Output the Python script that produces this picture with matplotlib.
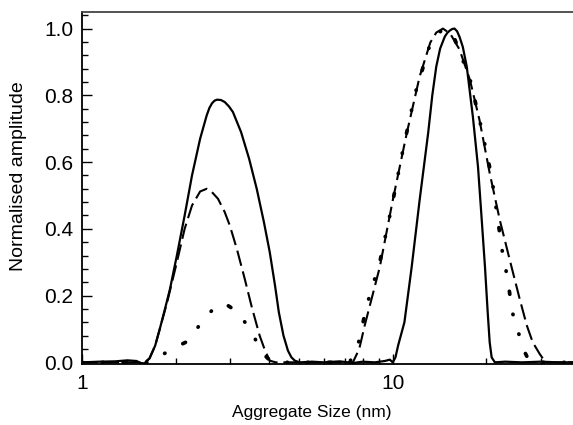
import matplotlib
matplotlib.use("Agg")
import matplotlib.pyplot as plt
from matplotlib.ticker import FixedLocator, MultipleLocator, NullFormatter

plt.rcParams['font.family'] = ['Liberation Sans', 'DejaVu Sans']

# solid curve
solid_x = [1.0, 1.14, 1.28, 1.40, 1.50, 1.54, 1.59, 1.65, 1.72, 1.78, 1.85, 1.92, 2.02,
           2.14, 2.26, 2.40, 2.52, 2.57, 2.62, 2.67, 2.72, 2.80, 2.88, 2.97, 3.06, 3.25,
           3.45, 3.65, 3.85, 4.02, 4.18, 4.30, 4.45, 4.60, 4.72, 4.84, 5.02, 5.5, 6.0,
           6.75, 7.44, 8.0, 8.75, 9.42, 9.78, 10.0, 10.2, 10.4, 10.9, 11.5, 12.2, 13.0,
           13.4, 13.8, 14.2, 14.7, 15.0, 15.3, 15.55, 15.8, 16.1, 16.4, 16.8, 17.3, 18.1,
           18.8, 19.3, 19.8, 20.2, 20.5, 20.8, 21.3, 23.0, 26.0, 30.0, 34.0, 38.0]
solid_y = [0.0, 0.002, 0.003, 0.006, 0.004, -0.002, -0.003, 0.012, 0.05, 0.10, 0.16,
           0.22, 0.32, 0.44, 0.56, 0.67, 0.74, 0.762, 0.776, 0.784, 0.787, 0.786, 0.78,
           0.767, 0.75, 0.69, 0.61, 0.52, 0.42, 0.33, 0.23, 0.15, 0.08, 0.035, 0.015,
           0.005, 0.0, 0.002, 0.0, 0.003, -0.002, 0.002, 0.0, 0.004, 0.008, 0.0, 0.015,
           0.05, 0.12, 0.285, 0.486, 0.688, 0.80, 0.886, 0.94, 0.976, 0.988, 0.995, 0.999,
           1.0, 0.992, 0.975, 0.945, 0.886, 0.736, 0.586, 0.435, 0.285, 0.15, 0.06,
           0.015, 0.0, 0.002, 0.0, 0.002, 0.0, 0.0]

# dashed curve
dash_x = [1.0, 1.3, 1.54, 1.59, 1.65, 1.72, 1.78, 1.88, 2.02, 2.14, 2.26, 2.40, 2.52,
          2.62, 2.74, 2.88, 2.99, 3.15, 3.34, 3.52, 3.73, 3.88, 4.02, 4.2, 5.0, 6.0, 7.0,
          7.44, 7.8, 8.12, 9.08, 10.0, 11.1, 12.2, 13.2, 13.8, 14.5, 15.3, 16.4, 17.7,
          19.0, 20.5, 22.1, 23.8, 25.6, 27.0, 28.2, 29.7, 31.0, 34.0, 38.0]
dash_y = [0.0, 0.0, 0.0, 0.0, 0.012, 0.05, 0.10, 0.18, 0.30, 0.40, 0.47, 0.512, 0.52,
          0.51, 0.49, 0.45, 0.41, 0.34, 0.25, 0.165, 0.08, 0.036, 0.005, 0.0, 0.0, 0.0,
          0.0, 0.0, 0.04, 0.11, 0.285, 0.486, 0.688, 0.856, 0.958, 0.988, 1.0, 0.985,
          0.937, 0.847, 0.727, 0.567, 0.426, 0.306, 0.19, 0.11, 0.06, 0.025, 0.0, 0.0, 0.0]

# dotted curve
dot_x = [1.0, 1.4, 1.65, 1.72, 1.95, 2.22, 2.43, 2.74, 2.95, 3.18, 3.52, 3.79, 4.08,
         5.0, 6.0, 7.26, 7.72, 8.25, 9.08, 9.9, 10.8, 11.5, 11.9, 13.2, 14.5, 15.8,
         17.7, 19.3, 20.8, 22.6, 23.3, 24.3, 25.4, 26.6, 27.6, 32.0, 38.0]
dot_y = [0.0, 0.0, 0.0, 0.01, 0.04, 0.066, 0.123, 0.175, 0.17, 0.15, 0.09, 0.03, 0.0,
         0.0, 0.0, 0.0, 0.05, 0.171, 0.30, 0.462, 0.64, 0.757, 0.817, 0.955, 1.0, 0.97,
         0.85, 0.70, 0.556, 0.321, 0.261, 0.147, 0.087, 0.03, 0.0, 0.0, 0.0]

fig = plt.figure(figsize=(5.73, 4.25), dpi=100)
ax = fig.add_axes([0.143, 0.1435, 0.857, 0.8285])

ax.plot(solid_x, solid_y, color='black', lw=1.6, solid_joinstyle='round')
ax.plot(dash_x, dash_y, color='black', lw=1.5, linestyle=(0, (7.5, 2.8)))
ax.plot(dot_x, dot_y, color='black', lw=2.7,
        linestyle=(0, (0.1, 5.4, 0.1, 5.4, 0.8, 5.4)), dash_capstyle='round')

ax.set_xscale('log')
ax.set_xlim(1, 38)
ax.set_ylim(-0.005, 1.05)

ax.xaxis.set_major_locator(FixedLocator([1, 10]))
ax.xaxis.set_major_formatter(plt.FixedFormatter(['1', '10']))
ax.xaxis.set_minor_locator(FixedLocator([2, 3, 4, 5, 6, 7, 8, 9, 20, 30]))
ax.xaxis.set_minor_formatter(NullFormatter())
ax.yaxis.set_major_locator(MultipleLocator(0.2))
ax.yaxis.set_minor_locator(MultipleLocator(0.04))
ax.yaxis.set_major_formatter(plt.FormatStrFormatter('%.1f'))

ax.tick_params(which='both', direction='in', top=False, right=False, width=1.0)
ax.tick_params(which='major', length=7, labelsize=15, pad=6)
ax.tick_params(which='minor', length=4)
ax.tick_params(axis='x', which='major', pad=7)

ax.spines['right'].set_visible(False)
for s in ['left', 'bottom', 'top']:
    ax.spines[s].set_linewidth(1.3)
ax.spines['top'].set_color('#444444')

ax.set_xlabel('Aggregate Size (nm)', fontsize=12.5)
ax.set_ylabel('Normalised amplitude', fontsize=14)
ax.xaxis.set_label_coords(0.468, -0.115)
ax.yaxis.set_label_coords(-0.112, 0.534)

fig.savefig('out.png', dpi=100)
